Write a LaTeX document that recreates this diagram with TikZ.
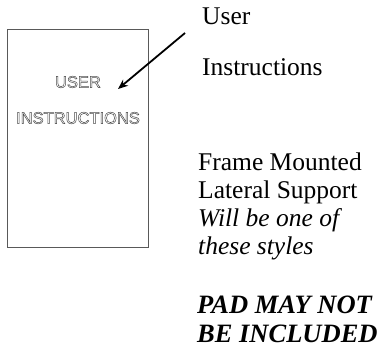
\documentclass[tikz,border=0pt]{standalone}
\usepackage{fontspec}
\setmainfont{Liberation Serif}
\newfontfamily\labelsans{Liberation Sans}
\usetikzlibrary{arrows.meta}
\newcommand{\outlinetext}[1]{\special{pdf:literal direct 1 Tr 0.5 w}#1\special{pdf:literal direct 0 Tr}}
\begin{document}
\begin{tikzpicture}[x=1pt,y=-1pt,
  txt/.style={anchor=base west,inner sep=0pt,font=\fontsize{25.5}{28}\selectfont},
  padtxt/.style={anchor=base west,inner sep=0pt,font=\fontsize{26.5}{29}\selectfont\bfseries\itshape},
  boxlabel/.style={inner sep=0pt,text=black!70,font=\labelsans\fontsize{16.5}{18}\selectfont},
  pointer/.style={line width=1.8pt,-{Stealth[length=10pt,width=8pt]}}]
\useasboundingbox (0,0) rectangle (379,354);
\draw[draw=black!65,line width=0.9pt] (7,29) rectangle (148,247);
\node[boxlabel] (user) at (78,82) {\outlinetext{USER}};
\node[boxlabel] (instr) at (78,118) {\outlinetext{INSTRUCTIONS}};
\coordinate (from) at (185,33);
\coordinate (tip) at (118,89);
\draw[pointer] (from) -- (tip);
\node[txt] (l1) at (202,24) {User};
\node[txt] (l2) at (202,75) {Instructions};
\node[txt] (f1) at (198,170) {Frame Mounted};
\node[txt] (f2) at (198,198) {Lateral Support};
\node[txt] (f3) at (198,226) {\itshape Will be one of};
\node[txt] (f4) at (198,254) {\itshape these styles};
\node[padtxt] (p1) at (197,313) {PAD MAY NOT};
\node[padtxt] (p2) at (197,342) {BE INCLUDED};
\end{tikzpicture}
\end{document}
